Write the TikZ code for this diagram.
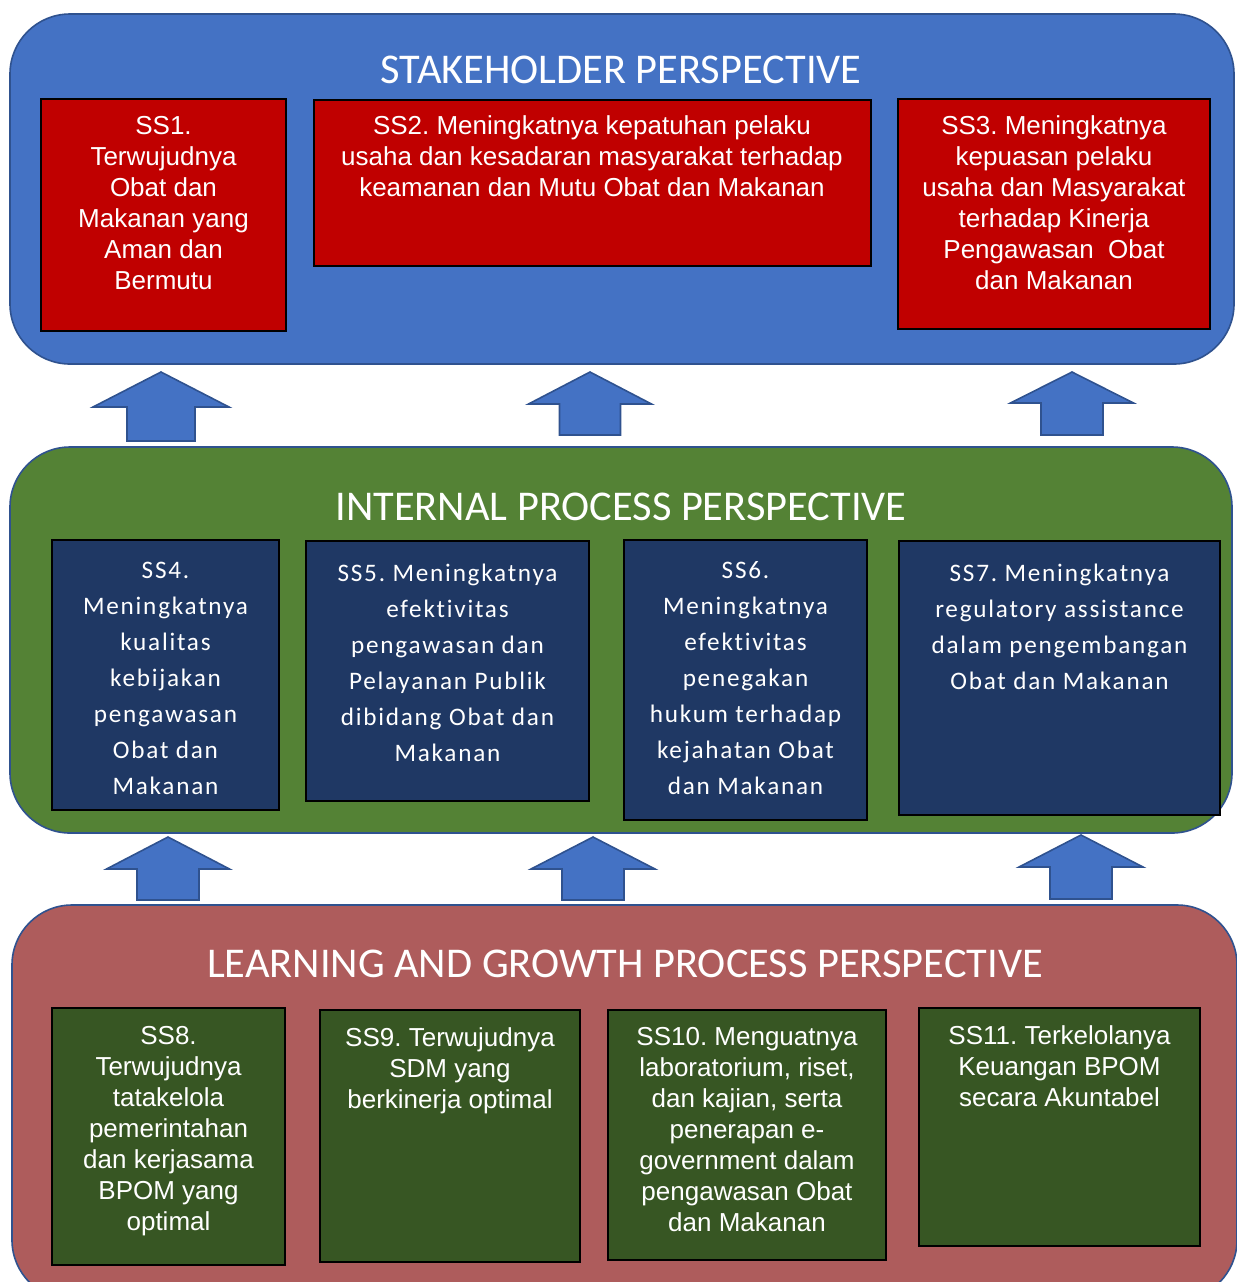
\documentclass[tikz,border=0pt]{standalone}
\usepackage{fontspec}
\setmainfont{Liberation Sans}
\newfontfamily\calibfont{Carlito}
\newfontfamily\calibsp{Carlito}[LetterSpace=7, Ligatures=NoCommon]
\usetikzlibrary{fit}
\frenchspacing
\definecolor{panelblue}{HTML}{4472C4}
\definecolor{edgeblue}{HTML}{2F528F}
\definecolor{boxred}{HTML}{C00000}
\definecolor{panelgreen}{HTML}{548235}
\definecolor{boxnavy}{HTML}{1F3864}
\definecolor{panelrose}{HTML}{AE5C5C}
\definecolor{boxgreen}{HTML}{375623}
\newcommand\firstln{\rule{0pt}{10pt}}
\newcommand\uparr[6]{\draw[blockarr] (#1,#2) -- (#1+#5,#3) -- (#1+#6,#3) -- (#1+#6,#4) -- (#1-#6,#4) -- (#1-#6,#3) -- (#1-#5,#3) -- cycle;}
\tikzset{
  panel/.style={draw=edgeblue, line width=0.8pt, rounded corners=30pt, inner sep=0pt, outer sep=0pt},
  sbox/.style={draw=black, line width=0.8pt, inner sep=0pt, outer sep=0pt},
  arialtxt/.style={text=white, align=center, inner sep=0pt, anchor=north, font=\frenchspacing\fontsize{13}{15.5}\selectfont},
  calibtxt/.style={text=white, align=center, inner sep=0pt, anchor=north, font=\frenchspacing\calibsp\fontsize{12.6}{18}\selectfont},
  titletxt/.style={text=white, inner sep=0pt, anchor=base, font=\calibfont\fontsize{21.2}{25}\selectfont},
  blockarr/.style={fill=panelblue, draw=edgeblue, line width=0.8pt}
}
\begin{document}
\begin{tikzpicture}[x=0.5pt, y=-0.5pt]
\path[use as bounding box] (0,0) rectangle (1237,1282);
\clip (0,0) rectangle (1237,1282);
% panels
\node[panel, fill=panelblue, fit={(10,14) (1234,364)}] (pstake) {};
\node[panel, fill=panelgreen, fit={(10,447) (1232,833)}] (pint) {};
\node[panel, fill=panelrose, fit={(12,905) (1237,1300)}] (plearn) {};
% titles
\node[titletxt] (tstake) at (621,83.5) {STAKEHOLDER PERSPECTIVE};
\node[titletxt] (tint) at (621,520) {INTERNAL PROCESS PERSPECTIVE};
\node[titletxt] (tlearn) at (625,977) {LEARNING AND GROWTH PROCESS PERSPECTIVE};
% arrows
\uparr{161}{372}{407}{441}{68}{34}
\uparr{590}{372}{404}{435}{61.5}{30.5}
\uparr{1072}{372}{403}{435}{61.5}{31}
\uparr{168}{837}{869}{900}{61.5}{31}
\uparr{593}{837}{869}{900}{62}{31}
\uparr{1081}{835}{867}{899}{62}{31}
% stakeholder boxes
\node[sbox, fill=boxred, fit={(41,99) (286,331)}] (b1) {};
\node[sbox, fill=boxred, fit={(314,100) (871,266)}] (b2) {};
\node[sbox, fill=boxred, fit={(898,99) (1210,329)}] (b3) {};
\node[arialtxt] (t1) at (163.5,114) {\firstln SS1.\\Terwujudnya\\Obat dan\\Makanan yang\\Aman dan\\Bermutu};
\node[arialtxt] (t2) at (592,114) {\firstln SS2. Meningkatnya kepatuhan pelaku\\usaha dan kesadaran masyarakat terhadap\\keamanan dan Mutu Obat dan Makanan};
\node[arialtxt] (t3) at (1054,114) {\firstln SS3. Meningkatnya\\kepuasan pelaku\\usaha dan Masyarakat\\terhadap Kinerja\\Pengawasan\ \ Obat\\dan Makanan};
% internal boxes
\node[sbox, fill=boxnavy, fit={(52,540) (279,810)}] (b4) {};
\node[sbox, fill=boxnavy, fit={(306,541) (589,801)}] (b5) {};
\node[sbox, fill=boxnavy, fit={(624,540) (867,820)}] (b6) {};
\node[sbox, fill=boxnavy, fit={(899,541) (1220,815)}] (b7) {};
\node[calibtxt] (t4) at (165.5,558) {\firstln SS4.\\Meningkatnya\\kualitas\\kebijakan\\pengawasan\\Obat dan\\Makanan};
\node[calibtxt] (t5) at (447.5,561) {\firstln SS5. Meningkatnya\\efektivitas\\pengawasan dan\\Pelayanan Publik\\dibidang Obat dan\\Makanan};
\node[calibtxt] (t6) at (745.5,558) {\firstln SS6.\\Meningkatnya\\efektivitas\\penegakan\\hukum terhadap\\kejahatan Obat\\dan Makanan};
\node[calibtxt] (t7) at (1059.5,561) {\firstln SS7. Meningkatnya\\regulatory assistance\\dalam pengembangan\\Obat dan Makanan};
% learning boxes
\node[sbox, fill=boxgreen, fit={(52,1008) (285,1265)}] (b8) {};
\node[sbox, fill=boxgreen, fit={(320,1010) (580,1262)}] (b9) {};
\node[sbox, fill=boxgreen, fit={(608,1010) (886,1260)}] (b10) {};
\node[sbox, fill=boxgreen, fit={(919,1008) (1200,1246)}] (b11) {};
\node[arialtxt] (t8) at (168.5,1024) {\firstln SS8.\\Terwujudnya\\tatakelola\\pemerintahan\\dan kerjasama\\BPOM yang\\optimal};
\node[arialtxt] (t9) at (450,1026) {\firstln SS9. Terwujudnya\\SDM yang\\berkinerja optimal};
\node[arialtxt] (t10) at (747,1025) {\firstln SS10. Menguatnya\\laboratorium, riset,\\dan kajian, serta\\penerapan e-\\government dalam\\pengawasan Obat\\dan Makanan};
\node[arialtxt] (t11) at (1059.5,1024) {\firstln SS11. Terkelolanya\\Keuangan BPOM\\secara Akuntabel};
\end{tikzpicture}
\end{document}
